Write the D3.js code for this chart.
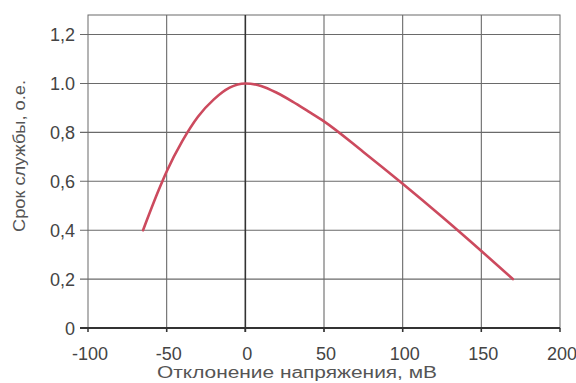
<!DOCTYPE html>
<html><head><meta charset="utf-8">
<script src="https://cdn.jsdelivr.net/npm/d3@7"></script>
<style>html,body{margin:0;padding:0;background:#fff;}</style>
</head><body>
<svg id="c" width="576" height="383"></svg>
<script>
const deviation = [-65, -55, -50, -40, -30, -20, -10, 0, 10, 20, 30, 40, 50, 75, 100, 125, 150, 170];
const life      = [0.40, 0.565, 0.64, 0.765, 0.865, 0.935, 0.983, 1.0, 0.99, 0.962, 0.926, 0.886, 0.845, 0.72, 0.59, 0.455, 0.315, 0.20];
const xTicks = [-100, -50, 0, 50, 100, 150, 200];
const yTicks = [0, 0.2, 0.4, 0.6, 0.8, 1.0, 1.2];
const yTickLabels = ["0", "0,2", "0,4", "0,6", "0,8", "1.0", "1,2"];
const xTitle = "Отклонение напряжения, мВ";
const yTitle = "Срок службы, о.е.";

const svg = d3.select("#c");
const x = d3.scaleLinear().domain([-100, 200]).range([88, 560]);
const y = d3.scaleLinear().domain([0, 1.28]).range([328, 15]);
const font = "'Liberation Sans Narrow','Liberation Sans',Arial,sans-serif";
const grid = "#6a6a6a";

svg.append("rect").attr("x", x(-100)).attr("y", y(1.28)).attr("width", x(200) - x(-100))
  .attr("height", y(0) - y(1.28)).attr("fill", "none").attr("stroke", grid).attr("stroke-width", 1);

svg.append("g").selectAll("line").data(yTicks.filter(d => d > 0)).join("line")
  .attr("x1", x(-100) - 8).attr("x2", x(200)).attr("y1", d => y(d)).attr("y2", d => y(d))
  .attr("stroke", grid).attr("stroke-width", 1.1);

svg.append("g").selectAll("line").data(xTicks.filter(d => d > -100 && d < 200)).join("line")
  .attr("x1", d => x(d)).attr("x2", d => x(d)).attr("y1", y(1.28)).attr("y2", y(0) + 4)
  .attr("stroke", d => d === 0 ? "#333" : grid).attr("stroke-width", d => d === 0 ? 1.6 : 1.1);

svg.append("line").attr("x1", x(-100) - 8).attr("x2", x(200)).attr("y1", y(0)).attr("y2", y(0))
  .attr("stroke", "#333").attr("stroke-width", 2.2);
svg.append("g").selectAll("line").data(xTicks).join("line")
  .attr("x1", d => x(d)).attr("x2", d => x(d)).attr("y1", y(0)).attr("y2", y(0) + 4)
  .attr("stroke", "#333").attr("stroke-width", 1.5);

svg.append("g").selectAll("text").data(yTicks).join("text")
  .attr("x", 75).attr("y", d => y(d) + 6.5).attr("text-anchor", "end")
  .attr("font-family", "Arial,'Liberation Sans',sans-serif").attr("font-size", 18).attr("fill", "#444")
  .text((d, i) => yTickLabels[i]);

svg.append("g").selectAll("text").data(xTicks).join("text")
  .attr("x", d => x(d) + 2).attr("y", 360).attr("text-anchor", "middle")
  .attr("font-family", "Arial,'Liberation Sans',sans-serif").attr("font-size", 18).attr("fill", "#444")
  .text(d => d);

svg.append("text").attr("x", 297).attr("y", 378).attr("text-anchor", "middle")
  .attr("font-family", font).attr("font-size", 16).attr("fill", "#555")
  .attr("textLength", 280).attr("lengthAdjust", "spacingAndGlyphs").text(xTitle);
svg.append("text").attr("transform", "translate(25,156) rotate(-90)").attr("text-anchor", "middle")
  .attr("font-family", font).attr("font-size", 16).attr("fill", "#555")
  .attr("textLength", 152).attr("lengthAdjust", "spacingAndGlyphs").text(yTitle);

const pts = deviation.map((d, i) => [d, life[i]]);
svg.append("path").datum(pts)
  .attr("d", d3.line().x(d => x(d[0])).y(d => y(d[1])).curve(d3.curveMonotoneX))
  .attr("fill", "none").attr("stroke", "#cc4a5e").attr("stroke-width", 2.6).attr("stroke-linecap", "round");
</script>
</body></html>
